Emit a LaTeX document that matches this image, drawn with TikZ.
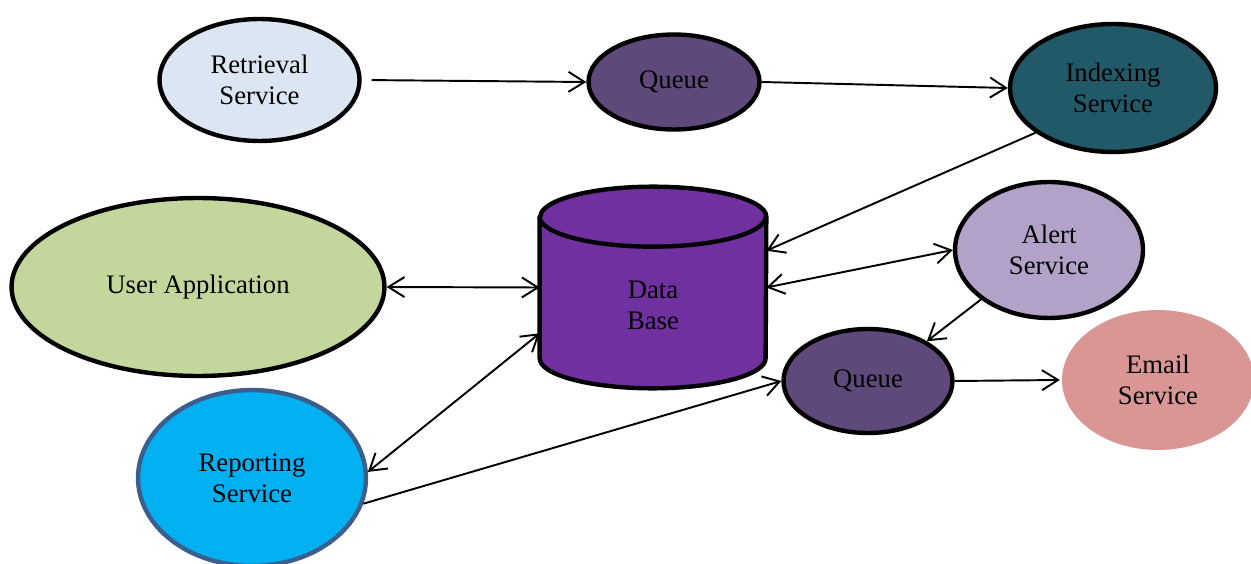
\documentclass[tikz,border=0pt]{standalone}
\usepackage{fontspec}
\setmainfont{Liberation Serif}
\usetikzlibrary{
  arrows.meta,
  positioning,
  shapes.geometric
}

\definecolor{retrievalblue}{HTML}{DCE6F2}
\definecolor{queuepurple}{HTML}{5F497A}
\definecolor{indexteal}{HTML}{215968}
\definecolor{dbpurple}{HTML}{7030A0}
\definecolor{appgreen}{HTML}{C3D69B}
\definecolor{reportblue}{HTML}{00B0F0}
\definecolor{reportedge}{HTML}{3B5E8C}
\definecolor{alertlilac}{HTML}{B3A2C7}
\definecolor{emailpink}{HTML}{D99694}

\begin{document}
\begin{tikzpicture}[
  x=0.02cm, y=-0.02cm,
  font=\fontsize{15.2}{17.6}\selectfont,
  service/.style={
    ellipse, draw=black, line width=2.5pt, align=center, inner sep=0pt
  },
  queue/.style={service, fill=queuepurple, minimum width=3.42cm, minimum height=1.9cm},
  store/.style={
    rectangle, inner sep=0pt, minimum width=4.52cm, minimum height=4.02cm
  },
  dbline/.style={draw=black, line width=2.5pt, line join=round},
  flow/.style={-{Straight Barb[length=3.2mm, width=4mm]}, line width=1.1pt},
  both/.style={{Straight Barb[length=3.2mm, width=4mm]}-{Straight Barb[length=3.2mm, width=4mm]}, line width=1.1pt},
]
\useasboundingbox (0,0) rectangle (1251,564);

% Top row: retrieval pipeline
\node[service, fill=retrievalblue, minimum width=4.0cm, minimum height=2.44cm] (ret) at (259.5,80)
  {Retrieval\\Service};
\node[queue] (q1) at (674,82) {Queue};
\node[service, fill=indexteal, minimum width=4.12cm, minimum height=2.56cm] (idx) at (1113,88)
  {Indexing\\Service};

% Middle: database drum and its clients
\node[store] (db) at (653,287.5) {};
\draw[dbline, fill=dbpurple]
  ([yshift=-0.6cm]db.north west) -- ([yshift=0.6cm]db.south west)
  arc[start angle=180, end angle=360, x radius=2.26cm, y radius=0.6cm]
  -- ([yshift=-0.6cm]db.north east)
  arc[start angle=0, end angle=180, x radius=2.26cm, y radius=0.6cm] -- cycle;
\draw[dbline] ([yshift=-0.6cm]db.north west)
  arc[start angle=180, end angle=360, x radius=2.26cm, y radius=0.6cm];
\node[align=center] (dbtext) at ([yshift=-0.36cm]db.center) {Data\\Base};

\node[service, fill=appgreen, minimum width=7.46cm, minimum height=3.56cm] (ua) at (198,287)
  {User Application};
\node[service, fill=alertlilac, minimum width=3.76cm, minimum height=2.72cm] (alert) at (1049,250)
  {Alert\\Service};

% Bottom row: reporting and notifications
\node[service, draw=reportedge, fill=reportblue, minimum width=4.56cm, minimum height=3.52cm] (rep) at (252,478)
  {Reporting\\Service};
\node[queue, minimum width=3.38cm, minimum height=2.08cm] (q2) at (868,381) {Queue};
\node[service, draw=none, fill=emailpink, minimum width=3.84cm, minimum height=2.8cm] (email) at (1158,380)
  {Email\\Service};

% Connectors
\draw[flow, shorten <=0.2cm] (ret.east) -- (q1.west);
\draw[flow] (q1.east) -- (idx.west);
\draw[flow] (idx.210) -- (db.18);
\draw[both] (ua.east) -- (db.west);
\draw[both] (db.east) -- (alert.west);
\draw[flow] (alert.216) -- (q2.34);
\draw[both] (rep.3) -- (db.202);
\draw[flow] (rep.347) -- (q2.west);
\draw[flow] (q2.east) -- (email.west);

\end{tikzpicture}
\end{document}
